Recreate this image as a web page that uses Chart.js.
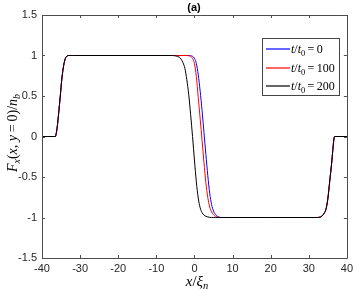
<!DOCTYPE html>
<html><head><meta charset="utf-8">
<script src="https://cdn.jsdelivr.net/npm/chart.js@4.4.0/dist/chart.umd.min.js"></script>
<style>
html,body{margin:0;padding:0;background:#fff;}
#wrap{position:relative;width:357px;height:290px;overflow:hidden;background:#fff;}
#c{position:absolute;left:0;top:0;}
.math{position:absolute;font-family:"Liberation Serif","DejaVu Serif",serif;color:#000;white-space:nowrap;line-height:1;}
.math sub{font-size:70%;vertical-align:-0.3em;line-height:0;}
#ylab{left:13px;top:133px;font-size:14px;transform:translate(-50%,-50%) rotate(-90deg);}
#xlab{left:197px;top:281px;font-size:15px;transform:translate(-50%,-50%);}
#title{position:absolute;left:194px;top:7px;transform:translate(-50%,-50%);font:bold 11px "Liberation Sans",Arial,sans-serif;color:#000;white-space:nowrap;}
.tx{font-size:12px;}
</style></head>
<body>
<div id="wrap">
<canvas id="c" width="357" height="290"></canvas>
<div id="title">(a)</div>
<div class="math" id="ylab"><i>F</i><sub><i>x</i></sub>(<i>x</i>, <i>y</i>&thinsp;=&thinsp;0)/<i>n</i><sub><i>b</i></sub></div>
<div class="math" id="xlab"><i>x</i>/<i>ξ</i><sub><i>n</i></sub></div>
</div>
<script>
// ---- data ----
const xValues = [
  -40, -36.5, -36.3, -36.0, -35.6, -35.2, -34.8, -34.3, -33.9, -33.5, -33.0, -32,
  -20, -8,
  -6, -5, -4, -3.5, -3, -2.5, -2, -1.5, -1, -0.5, 0, 0.5, 1, 1.5, 2, 2.5, 3, 3.5, 4, 4.5, 5, 5.5, 6, 6.5, 7, 8,
  20,
  32, 33, 33.5, 34, 34.5, 35, 35.5, 36, 36.3, 36.6, 36.8, 40
];
const seriesLabels = ["t/t0 = 0", "t/t0 = 100", "t/t0 = 200"];
const legendNumbers = ["0", "100", "200"];
const leftEdge  = [0, 0, 0.03, 0.12, 0.3, 0.5, 0.71, 0.88, 0.96, 0.99, 1.0, 1.0];
const plateauHi = [1, 1];
const plateauLo = [-1];
const rightEdge = [-1, -0.995, -0.98, -0.95, -0.9, -0.77, -0.55, -0.33, -0.17, -0.03, 0, 0];
// transition x = -6 ... 8
const midT0   = [1, 1, 1, 1, 1, 1, 1, 1, 0.997, 0.99, 0.965, 0.9, 0.76, 0.56, 0.32, 0.05, -0.22, -0.48, -0.7, -0.84, -0.92, -0.96, -0.985, -0.995, -1, -1];
const midT100 = [1, 1, 1, 1, 1, 1, 1, 0.997, 0.99, 0.965, 0.9, 0.74, 0.48, 0.22, -0.05, -0.32, -0.57, -0.75, -0.87, -0.93, -0.965, -0.985, -0.995, -1, -1, -1];
const midT200 = [1, 0.995, 0.98, 0.955, 0.91, 0.84, 0.7, 0.52, 0.27, 0.0, -0.29, -0.56, -0.76, -0.88, -0.94, -0.97, -0.985, -0.993, -0.998, -1, -1, -1, -1, -1, -1, -1];
const yT0   = [...leftEdge, ...plateauHi, ...midT0,   ...plateauLo, ...rightEdge];
const yT100 = [...leftEdge, ...plateauHi, ...midT100, ...plateauLo, ...rightEdge];
const yT200 = [...leftEdge, ...plateauHi, ...midT200, ...plateauLo, ...rightEdge];
const xTicks = [-40, -30, -20, -10, 0, 10, 20, 30, 40];
const yTicks = [-1.5, -1, -0.5, 0, 0.5, 1, 1.5];
const colors = ["#0000ff", "#ff0000", "#000000"];

function pts(ys){ return xValues.map((x,i)=>({x:x, y:ys[i]})); }

// legend geometry (style only)
const LG = {left:262, top:38, width:78, height:58, rowTop:49, rowStep:18.5, lineX0:266, lineX1:290, textX:291};

// legend texts (HTML, real text)
const wrap = document.getElementById('wrap');
legendNumbers.forEach((n,i)=>{
  const tx = document.createElement('div');
  tx.className = 'math tx';
  tx.style.left = LG.textX + 'px';
  tx.style.top = (LG.rowTop + i*LG.rowStep - 6) + 'px';
  tx.innerHTML = '<i>t</i>/<i>t</i><sub>0</sub>&thinsp;=&thinsp;' + n;
  wrap.appendChild(tx);
});

const axisColor = '#4d4d4d';
const framePlugin = {
  id:'frame',
  afterDraw(chart){
    const {ctx, chartArea:a, scales} = chart;
    ctx.save();
    ctx.strokeStyle = axisColor;
    ctx.lineWidth = 1;
    ctx.beginPath();
    ctx.rect(Math.round(a.left)+0.5, Math.round(a.top)+0.5, Math.round(a.right-a.left), Math.round(a.bottom-a.top));
    ctx.stroke();
    const tl = 3;
    ctx.beginPath();
    xTicks.forEach(v=>{
      const px = Math.round(scales.x.getPixelForValue(v))+0.5;
      ctx.moveTo(px, a.bottom); ctx.lineTo(px, a.bottom - tl);
      ctx.moveTo(px, a.top); ctx.lineTo(px, a.top + tl);
    });
    yTicks.forEach(v=>{
      const py = Math.round(scales.y.getPixelForValue(v))+0.5;
      ctx.moveTo(a.left, py); ctx.lineTo(a.left + tl, py);
      ctx.moveTo(a.right, py); ctx.lineTo(a.right - tl, py);
    });
    ctx.stroke();
    // legend box + line samples
    ctx.fillStyle = '#ffffff';
    ctx.fillRect(LG.left, LG.top, LG.width, LG.height);
    ctx.strokeStyle = '#444444';
    ctx.strokeRect(LG.left+0.5, LG.top+0.5, LG.width-1, LG.height-1);
    chart.data.datasets.forEach((ds,i)=>{
      const y = Math.round(LG.rowTop + i*LG.rowStep);
      ctx.strokeStyle = ds.borderColor;
      ctx.lineWidth = 1.2;
      ctx.beginPath();
      ctx.moveTo(LG.lineX0, y); ctx.lineTo(LG.lineX1, y);
      ctx.stroke();
    });
    ctx.restore();
  }
};

const tickFont = {family:'"Liberation Sans", Arial, sans-serif', size:11};
new Chart(document.getElementById('c'), {
  type:'line',
  data:{
    datasets:[
      {label:seriesLabels[0], data:pts(yT0),   borderColor:colors[0], order:2},
      {label:seriesLabels[1], data:pts(yT100), borderColor:colors[1], order:1},
      {label:seriesLabels[2], data:pts(yT200), borderColor:colors[2], order:0}
    ]
  },
  options:{
    responsive:false,
    devicePixelRatio:1,
    animation:false,
    events:[],
    layout:{padding:{left:0,right:6,top:15,bottom:0}},
    elements:{
      point:{radius:0},
      line:{borderWidth:1, cubicInterpolationMode:'monotone', fill:false}
    },
    plugins:{legend:{display:false}, tooltip:{enabled:false}, title:{display:false}},
    scales:{
      x:{
        type:'linear', min:-40, max:40,
        afterFit(s){ s.height = 32; },
        afterBuildTicks(s){ s.ticks = xTicks.map(v=>({value:v})); },
        grid:{display:false, drawTicks:false},
        border:{display:false},
        ticks:{font:tickFont, color:'#262626', padding:4, maxRotation:0, autoSkip:false, callback:v=>String(v)}
      },
      y:{
        type:'linear', min:-1.5, max:1.5,
        afterFit(s){ s.width = 42; },
        afterBuildTicks(s){ s.ticks = yTicks.map(v=>({value:v})); },
        grid:{display:false, drawTicks:false},
        border:{display:false},
        ticks:{font:tickFont, color:'#262626', padding:5, autoSkip:false, callback:v=>String(v)}
      }
    }
  },
  plugins:[framePlugin]
});
</script>
</body></html>
